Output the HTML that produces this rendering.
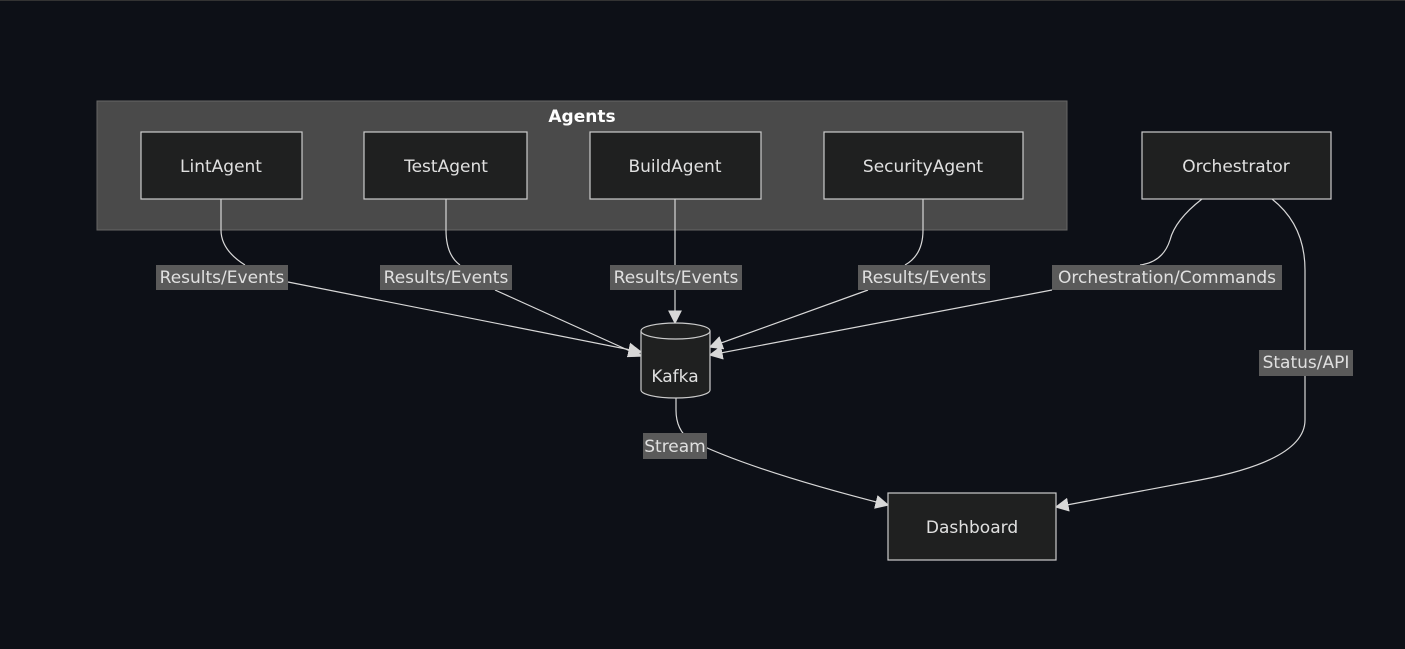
<!DOCTYPE html>
<html><head><style>
html,body{margin:0;padding:0;background:#0d1017;}
svg{display:block;font-family:"DejaVu Sans","Liberation Sans",sans-serif;}
.n{fill:#1f2020;stroke:#cccccc;stroke-width:1.2}
.t{fill:#e0e0e0;font-size:17px;text-anchor:middle}
.e{fill:none;stroke:#d8d8d8;stroke-width:1.2}
.lb{fill:#5a5a5a}
.lt{fill:#e0e0e0;font-size:17px;text-anchor:middle}
</style></head><body>
<svg width="1405" height="649" viewBox="0 0 1405 649">
<defs><marker id="a" viewBox="0 0 10 10" refX="9" refY="5" markerWidth="9" markerHeight="9" markerUnits="userSpaceOnUse" orient="auto"><path d="M0,0L10,5L0,10z" fill="#d8d8d8"/></marker>
<marker id="b" viewBox="0 0 10 10" refX="9" refY="5" markerWidth="14" markerHeight="14" markerUnits="userSpaceOnUse" orient="auto"><path d="M0,0L10,5L0,10z" fill="#d8d8d8"/></marker></defs>
<rect x="0" y="0" width="1405" height="1" fill="#333"/>
<rect x="97" y="101" width="970" height="129" fill="#4a4a4a" stroke="#666" stroke-width="1"/>
<text x="582" y="122" class="t" style="font-weight:bold;fill:#fff">Agents</text>

<path class="e" d="M221,199 V230 Q221,250 245,265"/>
<path class="e" d="M288,282 L641,352" marker-end="url(#b)"/>
<path class="e" d="M446,199 V230 Q446,255 460,265"/>
<path class="e" d="M495,290 L641,356" marker-end="url(#b)"/>
<path class="e" d="M675,199 V323" marker-end="url(#b)"/>
<path class="e" d="M923,199 V230 Q923,255 905,265"/>
<path class="e" d="M868,290 L710,347" marker-end="url(#b)"/>
<path class="e" d="M1202,199 Q1175,220 1170,240 Q1163,262 1140,265"/>
<path class="e" d="M1052,290 L710,355" marker-end="url(#b)"/>
<path class="e" d="M1272,199 Q1305,225 1305,270 V420 Q1305,460 1200,480 L1056,507" marker-end="url(#b)"/>
<path class="e" d="M676,398 V410 Q676,430 690,440 Q750,470 888,505" marker-end="url(#b)"/>

<rect class="n" x="141" y="132" width="161" height="67"/><text class="t" x="221" y="172">LintAgent</text>
<rect class="n" x="364" y="132" width="163" height="67"/><text class="t" x="446" y="172">TestAgent</text>
<rect class="n" x="590" y="132" width="171" height="67"/><text class="t" x="675" y="172">BuildAgent</text>
<rect class="n" x="824" y="132" width="199" height="67"/><text class="t" x="923" y="172">SecurityAgent</text>
<rect class="n" x="1142" y="132" width="189" height="67"/><text class="t" x="1236" y="172">Orchestrator</text>
<rect class="n" x="888" y="493" width="168" height="67"/><text class="t" x="972" y="533">Dashboard</text>

<path class="n" d="M641,331 A34.5,8 0 0 1 710,331 V390 A34.5,8 0 0 1 641,390 Z"/>
<path class="e" style="stroke:#ccc" d="M641,331 A34.5,8 0 0 0 710,331"/>
<text class="t" x="675" y="382">Kafka</text>

<rect class="lb" x="156" y="265" width="132" height="25"/><text class="lt" x="222" y="283">Results/Events</text>
<rect class="lb" x="380" y="265" width="132" height="25"/><text class="lt" x="446" y="283">Results/Events</text>
<rect class="lb" x="610" y="265" width="132" height="25"/><text class="lt" x="676" y="283">Results/Events</text>
<rect class="lb" x="858" y="265" width="132" height="25"/><text class="lt" x="924" y="283">Results/Events</text>
<rect class="lb" x="1052" y="265" width="230" height="25"/><text class="lt" x="1167" y="283">Orchestration/Commands</text>
<rect class="lb" x="1259" y="350" width="94" height="26"/><text class="lt" x="1306" y="368">Status/API</text>
<rect class="lb" x="643" y="433" width="64" height="26"/><text class="lt" x="675" y="452">Stream</text>
</svg>
</body></html>
